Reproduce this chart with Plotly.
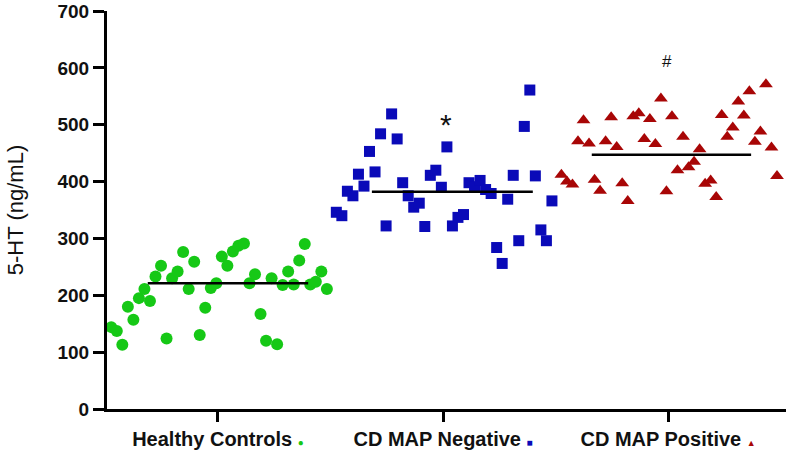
import numpy as np
import plotly.graph_objects as go

categories = ["Healthy Controls", "CD MAP Negative", "CD MAP Positive"]

healthy = [144, 137, 113, 180, 157, 195, 211, 190, 233, 252, 124, 230, 242, 276, 211, 259, 130, 178, 213, 221,
           268, 252, 277, 287, 291, 221, 237, 167, 120, 230, 114, 218, 242, 219, 261, 290, 219, 224, 242, 211]
cd_neg = [346, 340, 383, 375, 413, 392, 453, 417, 484, 322, 519, 475, 398, 375, 355, 362, 321, 411, 420, 390,
          461, 322, 337, 342, 398, 391, 402, 386, 379, 284, 256, 369, 411, 296, 497, 561, 410, 315, 296, 366]
cd_pos = [412, 400, 395, 471, 508, 467, 403, 384, 471, 513, 461, 397, 366, 515, 520, 475, 510, 466, 546, 383,
          515, 420, 479, 425, 435, 457, 396, 402, 373, 517, 479, 495, 541, 516, 559, 470, 488, 571, 460, 410]
medians = [221, 382, 447]
marks = ["", "*", "#"]

colors = ["#16c816", "#0a0ab8", "#a80606"]
symbols = ["circle", "square", "triangle-up"]
sizes = [12, 11, 12]
groups = [healthy, cd_neg, cd_pos]

fig = go.Figure()
for i, vals in enumerate(groups):
    xs = i + np.linspace(-0.474, 0.484, len(vals))
    fig.add_trace(go.Scatter(x=xs, y=vals, mode="markers",
                             marker=dict(color=colors[i], symbol=symbols[i], size=sizes[i], line=dict(width=0)),
                             showlegend=False, cliponaxis=False))

line_ext = [(-0.312, 0.401), (-0.316, 0.399), (-0.339, 0.369)]
for i, m in enumerate(medians):
    a, b = line_ext[i]
    fig.add_trace(go.Scatter(x=[i + a, i + b], y=[m, m], mode="lines",
                             line=dict(color="black", width=2.5), showlegend=False))

fig.add_annotation(x=1.013, y=500, text=marks[1], showarrow=False,
                   font=dict(size=30, color="#111", family="Liberation Sans, Arial"))
fig.add_annotation(x=1.996, y=612, text=marks[2], showarrow=False,
                   font=dict(size=17, color="#111", family="Liberation Sans, Arial"))

legend_glyph = [
    '<span style="color:%s;font-size:10px">●</span>' % colors[0],
    '<span style="color:%s;font-size:10px">■</span>' % colors[1],
    '<span style="color:%s;font-size:9px">▲</span>' % colors[2],
]
ticktext = ["%s %s" % (c, g) for c, g in zip(categories, legend_glyph)]

fig.update_layout(
    width=786, height=450,
    margin=dict(l=107, r=0, t=11, b=41),
    paper_bgcolor="white", plot_bgcolor="white",
    font=dict(family="Liberation Sans, Arial", color="black"),
)
fig.update_xaxes(
    range=[-0.493, 2.524], tickmode="array", tickvals=[0, 1, 2], ticktext=ticktext,
    showline=True, linewidth=3, linecolor="black", ticks="outside", ticklen=10, tickwidth=3,
    tickcolor="black", showgrid=False, zeroline=False,
    tickfont=dict(size=20, color="#111", weight="bold"),
)
fig.update_yaxes(
    range=[0, 700], tickvals=[0, 100, 200, 300, 400, 500, 600, 700],
    showline=True, linewidth=3, linecolor="black", ticks="outside", ticklen=11, tickwidth=3,
    tickcolor="black", showgrid=False, zeroline=False,
    tickfont=dict(size=19, color="#111", weight="bold"),
    title=dict(text="5-HT (ng/mL)", font=dict(size=22, color="#111"), standoff=28),
)

fig.write_html("out.html", config={"displayModeBar": False},
               post_script="document.body.style.margin='0px';document.body.style.overflow='hidden';")
